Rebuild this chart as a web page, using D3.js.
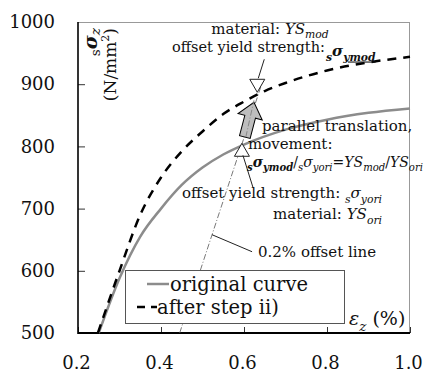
<!DOCTYPE html>
<html>
<head>
<meta charset="utf-8">
<script src="https://cdn.jsdelivr.net/npm/d3@7"></script>
<style>
  body { margin: 0; background: #fff; }
  svg { display: block; font-family: "DejaVu Serif", serif; }
</style>
</head>
<body>
<div id="root"></div>
<script>
const width = 423;
const height = 374;
const margin = {top: 22, right: 13, bottom: 41, left: 78};

// tick values
const xTicks = [0.2, 0.4, 0.6, 0.8, 1.0];
const yTicks = [500, 600, 700, 800, 900, 1000];

// original curve
const strainOri = [0.25, 0.3, 0.35, 0.4, 0.45, 0.5, 0.55, 0.6, 0.7, 0.8, 0.9, 1.0];
const stressOri = [500, 588, 655, 700, 738, 766, 787, 803, 827, 843, 854, 861];
// after step ii)
const strainMod = [0.248, 0.3, 0.35, 0.4, 0.45, 0.5, 0.55, 0.6, 0.65, 0.7, 0.8, 0.9, 1.0];
const stressMod = [500, 600, 690, 750, 792, 824, 852, 872, 889, 902, 922, 935, 944];
// 0.2% offset line
const offsetStrain = [0.445, 0.645];
const offsetStress = [500, 905];
// offset yield points (ori, mod)
const yieldStrain = [0.595, 0.632];
const yieldStress = [805, 887];
// parallel translation arrow (from, to)
const arrowStrain = [0.602, 0.624];
const arrowStress = [815, 871];

const x = d3.scaleLinear().domain([0.2, 1.0]).range([margin.left, width - margin.right]);
const y = d3.scaleLinear().domain([500, 1000]).range([height - margin.bottom, margin.top]);

const svg = d3.select('#root')
    .append('svg')
    .attr('width', width)
    .attr('height', height);

// text with subscripts, italic and bold parts
function rich(g, px, py, parts, fs, anchor, subShift) {
    const t = g.append('text')
        .attr('x', px)
        .attr('y', py)
        .attr('font-size', fs)
        .attr('text-anchor', anchor || 'start')
        .attr('fill', '#111');
    let shift = 0;
    parts.forEach(p => {
        const s = t.append('tspan').text(p.t);
        const target = p.sub ? (subShift || 0.3) * fs : 0;
        s.attr('dy', target - shift);
        shift = target;
        if (p.sub) s.attr('font-size', fs * 0.72);
        if (p.it) s.attr('font-style', 'italic');
        if (p.b) s.attr('font-weight', 'bold');
        if (p.u) s.attr('text-decoration', 'underline');
    });
    return t;
}

// axes
const xAxis = svg.append('g')
    .attr('transform', `translate(0,${height - margin.bottom})`)
    .call(d3.axisBottom(x).tickValues(xTicks).tickSize(-6).tickPadding(23).tickFormat(d3.format('.1f')));
const yAxis = svg.append('g')
    .attr('transform', `translate(${margin.left},0)`)
    .call(d3.axisLeft(y).tickValues(yTicks).tickSize(-7).tickPadding(23).tickFormat(d3.format('d')));
[xAxis, yAxis].forEach(a => {
    a.select('.domain').remove();
    a.selectAll('.tick line').attr('stroke', '#333');
    a.selectAll('.tick text')
        .attr('font-family', '"DejaVu Serif", serif')
        .attr('font-size', 18)
        .attr('fill', '#111');
});
xAxis.selectAll('.tick text').attr('dx', -2);

// frame
const [x0, x1] = x.range();
const [y0, y1] = y.range();
svg.append('line').attr('x1', x0).attr('x2', x1).attr('y1', y1 + 0.5).attr('y2', y1 + 0.5)
    .attr('stroke', '#999').attr('stroke-width', 1);
svg.append('line').attr('x1', x1 - 0.5).attr('x2', x1 - 0.5).attr('y1', y1).attr('y2', y0)
    .attr('stroke', '#999').attr('stroke-width', 1);
svg.append('line').attr('x1', x0).attr('x2', x0).attr('y1', y1).attr('y2', y0 + 1)
    .attr('stroke', '#000').attr('stroke-width', 1.6);
svg.append('line').attr('x1', x0).attr('x2', x1).attr('y1', y0).attr('y2', y0)
    .attr('stroke', '#000').attr('stroke-width', 2);

const line = d3.line()
    .x(d => x(d[0]))
    .y(d => y(d[1]))
    .curve(d3.curveMonotoneX);

// 0.2% offset line
svg.append('path')
    .datum(d3.zip(offsetStrain, offsetStress))
    .attr('d', d3.line().x(d => x(d[0])).y(d => y(d[1])))
    .attr('fill', 'none')
    .attr('stroke', '#555')
    .attr('stroke-width', 0.8)
    .attr('stroke-dasharray', '6,2,1,2');

svg.append('path')
    .datum(d3.zip(strainOri, stressOri))
    .attr('d', line)
    .attr('fill', 'none')
    .attr('stroke', '#8c8c8c')
    .attr('stroke-width', 2.5);

svg.append('path')
    .datum(d3.zip(strainMod, stressMod))
    .attr('d', line)
    .attr('fill', 'none')
    .attr('stroke', '#000')
    .attr('stroke-width', 2.5)
    .attr('stroke-dasharray', '9,7');

// parallel translation arrow
const ax0 = x(arrowStrain[0]), ay0 = y(arrowStress[0]);
const ax1 = x(arrowStrain[1]), ay1 = y(arrowStress[1]);
const alen = Math.hypot(ax1 - ax0, ay1 - ay0);
const ang = Math.atan2(ay1 - ay0, ax1 - ax0) * 180 / Math.PI;
const head = 15, sw = 5.5, hw = 12.5;
svg.append('path')
    .attr('transform', `translate(${ax0},${ay0}) rotate(${ang})`)
    .attr('d', `M0,${-sw}L${alen - head},${-sw}L${alen - head},${-hw}L${alen},0L${alen - head},${hw}L${alen - head},${sw}L0,${sw}Z`)
    .attr('fill', '#bdbdbd')
    .attr('stroke', '#000')
    .attr('stroke-width', 1);
// the offset line shows through the arrow
svg.append('line')
    .attr('x1', ax0 + 1).attr('y1', ay0).attr('x2', ax1).attr('y2', ay1 - 2)
    .attr('stroke', '#777').attr('stroke-width', 0.8).attr('stroke-dasharray', '6,2,1,2');

// yield point markers
const tw = 7.5, th = 13;
const pOri = [x(yieldStrain[0]), y(yieldStress[0])];
const pMod = [x(yieldStrain[1]), y(yieldStress[1])];
svg.append('path')
    .attr('d', `M${pOri[0]},${pOri[1]}L${pOri[0] - tw},${pOri[1] + th}L${pOri[0] + tw},${pOri[1] + th}Z`)
    .attr('fill', '#fff').attr('stroke', '#222').attr('stroke-width', 1);
svg.append('path')
    .attr('d', `M${pMod[0]},${pMod[1]}L${pMod[0] - tw},${pMod[1] - th}L${pMod[0] + tw},${pMod[1] - th}Z`)
    .attr('fill', '#fff').attr('stroke', '#222').attr('stroke-width', 1);

// leader lines
svg.append('line')
    .attr('x1', pMod[0] + 1).attr('y1', pMod[1] - th - 1)
    .attr('x2', pMod[0] + 7).attr('y2', pMod[1] - 33)
    .attr('stroke', '#222').attr('stroke-width', 1);
svg.append('line')
    .attr('x1', pOri[0] + 1).attr('y1', pOri[1] + th - 1)
    .attr('x2', pOri[0] + 11).attr('y2', pOri[1] + 44)
    .attr('stroke', '#222').attr('stroke-width', 1);
const offAt = 658;
const offX = offsetStrain[0] + (offAt - offsetStress[0]) * (offsetStrain[1] - offsetStrain[0]) / (offsetStress[1] - offsetStress[0]);
svg.append('line')
    .attr('x1', x(offX)).attr('y1', y(offAt))
    .attr('x2', x(offX) + 40).attr('y2', y(offAt) + 17)
    .attr('stroke', '#222').attr('stroke-width', 1);

// annotations
const fs = 15;
rich(svg, 270, 34, [{t: 'material: '}, {t: 'YS', it: true}, {t: 'mod', it: true, sub: true}], fs, 'middle', 0.25);
rich(svg, 172, 52, [{t: 'offset yield strength:'}], 14.5);
rich(svg, 326, 56, [{t: 's', it: true, b: true, sub: true}, {t: 'σ', it: true, b: true}, {t: 'ymod', it: true, b: true, sub: true, u: true}], 15);

rich(svg, 262, 131, [{t: 'parallel translation,'}], fs);
rich(svg, 248, 149, [{t: 'movement:'}], fs);
rich(svg, 247, 167, [
    {t: 's', it: true, b: true, sub: true}, {t: 'σ', it: true, b: true}, {t: 'ymod', it: true, b: true, sub: true},
    {t: '/'},
    {t: 's', it: true, sub: true}, {t: 'σ', it: true}, {t: 'yori', it: true, sub: true},
    {t: '='}, {t: 'YS', it: true}, {t: 'mod', it: true, sub: true},
    {t: '/'}, {t: 'YS', it: true}, {t: 'ori', it: true, sub: true}
], 14);
rich(svg, 382, 198, [{t: 'offset yield strength: '}, {t: 's', it: true, sub: true}, {t: 'σ', it: true}, {t: 'yori', it: true, sub: true}], fs, 'end');
rich(svg, 382, 219, [{t: 'material: '}, {t: 'YS', it: true}, {t: 'ori', it: true, sub: true}], fs, 'end');
rich(svg, 258, 257, [{t: '0.2% offset line'}], fs);

// x axis title
rich(svg, 349, 325, [{t: 'ε', it: true}, {t: 'z', it: true, sub: true}, {t: ' (%)'}], 19);

// y axis title (rotated)
const yl = svg.append('g').attr('transform', `translate(97,28) rotate(-90)`);
rich(yl, 0, 0, [{t: 's', sub: true}, {t: 'σ', it: true, b: true}, {t: 'z', it: true, sub: true}], 19, 'end', 0.15);
const yl2 = svg.append('g').attr('transform', `translate(116,28) rotate(-90)`);
rich(yl2, 0, 0, [{t: '(N/mm'}, {t: '2'}, {t: ')'}], 17, 'end')
    .select('tspan:nth-child(2)').attr('font-size', 11).attr('dy', -7);
yl2.select('tspan:nth-child(3)').attr('dy', 7);

// legend
const lg = svg.append('g');
lg.append('rect')
    .attr('x', 125.5).attr('y', 270.5).attr('width', 219).attr('height', 53)
    .attr('fill', '#fff').attr('stroke', '#555').attr('stroke-width', 1);
lg.append('line').attr('x1', 147).attr('x2', 169).attr('y1', 284).attr('y2', 284)
    .attr('stroke', '#8c8c8c').attr('stroke-width', 2.5);
lg.append('line').attr('x1', 137).attr('x2', 157).attr('y1', 307).attr('y2', 307)
    .attr('stroke', '#000').attr('stroke-width', 2.5).attr('stroke-dasharray', '8,6');
rich(lg, 170, 291, [{t: 'original curve'}], 19.5);
rich(lg, 157, 314, [{t: 'after step ii)'}], 19.5);
</script>
</body>
</html>
